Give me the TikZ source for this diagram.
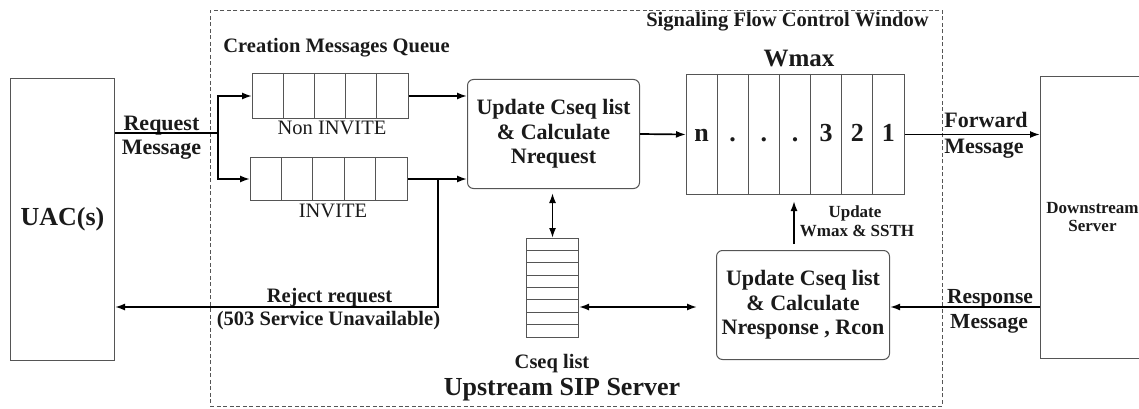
\documentclass[tikz,border=0pt]{standalone}
\usepackage{fontspec}
\setmainfont{Liberation Serif}
\usetikzlibrary{arrows.meta,calc}
\definecolor{ln}{HTML}{555555}
\definecolor{tx}{HTML}{1A1A1A}
\newcommand\setfs[1]{\fontsize{#1}{#1}\selectfont}
\begin{document}
\begin{tikzpicture}[x=1pt,y=-1pt,
  box/.style={draw=ln, line width=1pt, inner sep=0pt, text=tx},
  rbox/.style={box, rounded corners=6pt, align=center, font=\bfseries\fontsize{22}{24.5}\selectfont},
  frame/.style={draw=ln, line width=0.9pt, dash pattern=on 4pt off 2.5pt, inner sep=0pt},
  cell/.style={draw=ln, line width=1pt},
  conn/.style={draw=black, line width=1.7pt},
  arr/.style={conn, -{Latex[length=10pt,width=7pt]}},
  darr/.style={conn, {Latex[length=10pt,width=7pt]}-{Latex[length=10pt,width=7pt]}},
  lb/.style={anchor=base, inner sep=0pt, text=tx, font=\bfseries\setfs{#1}},
  lr/.style={anchor=base, inner sep=0pt, text=tx, font=\setfs{#1}}]
\useasboundingbox (0,0) rectangle (1139,409);
% window frame
\node[frame, minimum width=732, minimum height=396, anchor=north west] (win) at (210,10) {};
% end boxes
\node[box, minimum width=104, minimum height=282, anchor=north west, font=\bfseries\setfs{26}] (uac) at (10,78) {UAC(s)};
\node[box, minimum width=104, minimum height=282, anchor=north west, align=center, font=\bfseries\fontsize{17}{18}\selectfont] (ds) at (1040,76) {Downstream\\Server};
% queues
\node[box, minimum width=156, minimum height=45, anchor=north west] (nq) at (252,73) {};
\foreach \i in {1,...,4} \draw[cell] ($(nq.north west)+(\i*31.2,0)$) -- ++(0,45);
\node[box, minimum width=157, minimum height=43, anchor=north west] (iq) at (250,157) {};
\foreach \i in {1,...,4} \draw[cell] ($(iq.north west)+(\i*31.4,0)$) -- ++(0,43);
% update boxes
\node[rbox, minimum width=172, minimum height=109, anchor=north west] (up) at (467,79) {Update Cseq list\\\& Calculate\\Nrequest};
\node[rbox, minimum width=173, minimum height=109, anchor=north west] (rb) at (716,250) {Update Cseq list\\\& Calculate\\Nresponse , Rcon};
% Wmax window
\node[box, minimum width=218, minimum height=120, anchor=north west] (wm) at (686,74) {};
\foreach \i in {1,...,6} \draw[cell] ($(wm.north west)+(\i*31.14,0)$) -- ++(0,120);
\foreach \t [count=\i] in {n,.,.,.,3,2,1}
  \node[lb=26] (c\i) at ($(wm.north west)+(\i*31.14-15.57,67)$) {\t};
% Cseq list
\node[box, minimum width=52, minimum height=99, anchor=north west] (cs) at (526,238) {};
\foreach \i in {1,...,7} \draw[cell] ($(cs.north west)+(0,\i*12.375)$) -- ++(52,0);
% labels
\node[lb=20.5] (tcq) at (336.5,53) {Creation Messages Queue};
\node[lb=20.5] (tsf) at (787.5,27) {Signaling Flow Control Window};
\node[lb=25] (twm) at (799,67) {Wmax};
\node[lr=20.5] (tni) at (332,134) {Non INVITE};
\node[lr=20.5] (tin) at (333,217) {INVITE};
\node[lb=22] (trq1) at (161.5,131) {Request};
\node[lb=22] (trq2) at (161.5,154) {Message};
\node[lb=22] (tfw1) at (986,128) {Forward};
\node[lb=22] (tfw2) at (984,153) {Message};
\node[lb=17] (tuw1) at (855,217) {Update};
\node[lb=17] (tuw2) at (857,236) {Wmax \& SSTH};
\node[lb=20.5] (trj1) at (329.5,302) {Reject request};
\node[lb=20.5] (trj2) at (328.5,325) {(503 Service Unavailable)};
\node[lb=21.5] (trs1) at (990,303) {Response};
\node[lb=21.5] (trs2) at (989,328) {Message};
\node[lb=20.5] (tcl) at (552,368) {Cseq list};
\node[lb=26] (tus) at (562,395) {Upstream SIP Server};
% connectors
\coordinate (jn) at (218,133);
\coordinate (rj) at (438,0);
\coordinate (rl) at (438,307);
\coordinate (wx) at (794,0);
\draw[conn] (uac.east |- jn) -- (jn);
\draw[arr] (jn) |- (nq.west);
\draw[arr] (jn) |- (iq.west);
\draw[arr] (nq.east) -- (nq.east -| up.west);
\draw[arr] (iq.east) -- (iq.east -| up.west);
\draw[arr] (rj |- iq.east) -- (rl) -- (uac.east |- rl);
\draw[arr] (up.east) -- (wm.west);
\draw[arr] (wm.east) -- (wm.east -| ds.west);
\draw[arr, shorten <=6pt, shorten >=6pt] (wx |- rb.north) -- (wx |- wm.south);
\draw[darr, shorten <=4pt] (cs.north |- up.south) -- (cs.north);
\draw[darr, shorten >=19pt] (cs.east |- rl) -- (rb.west |- rl);
\draw[arr] (ds.west |- rl) -- (rb.east |- rl);
\end{tikzpicture}
\end{document}
